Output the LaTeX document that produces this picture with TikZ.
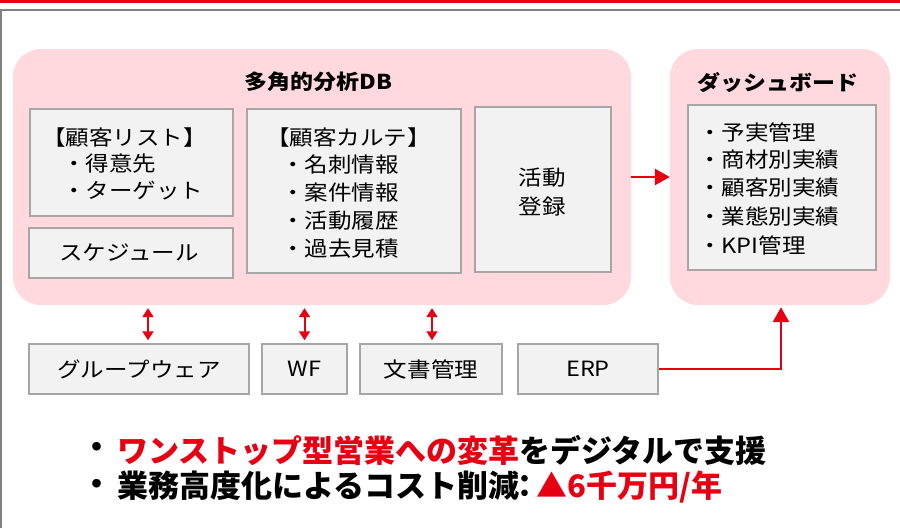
\documentclass[tikz,border=0pt]{standalone}
\usepackage{fontspec}
\setmainfont{Noto Sans CJK JP}[FakeStretch=1.12]
\newfontfamily\msgfont{Noto Sans CJK JP}
\usetikzlibrary{arrows.meta,calc}
\definecolor{topred}{HTML}{E60012}
\definecolor{pinkfill}{HTML}{FFD9DD}
\definecolor{boxfill}{HTML}{F2F2F2}
\definecolor{boxline}{HTML}{A6A6A6}
\definecolor{framegray}{HTML}{808080}
\tikzset{
  pinkbox/.style={fill=pinkfill, draw=none, rounded corners=28pt, inner sep=0pt, rectangle},
  graybox/.style={fill=boxfill, draw=boxline, line width=1.5pt, inner sep=0pt, rectangle},
  ttl/.style={inner sep=0pt, font=\fontsize{20.5}{24}\selectfont\bfseries},
  txt/.style={inner sep=0pt, font=\fontsize{21}{25}\selectfont},
  btxt/.style={inner sep=0pt, font=\fontsize{21}{25}\selectfont},
  bigtxt/.style={inner sep=0pt, font=\msgfont\fontsize{31}{36}\selectfont\bfseries},
  dblarr/.style={draw=topred, line width=2pt, {Triangle[width=11pt,length=9pt]}-{Triangle[width=11pt,length=9pt]}},
  redarr/.style={draw=topred, line width=2.8pt, -{Triangle[width=16pt,length=15pt]}}
}
\begin{document}
\begin{tikzpicture}[x=1pt,y=-1pt]
\useasboundingbox (0,0) rectangle (900,528);
% frame
\fill[topred] (0,0) rectangle (900,3);
\draw[framegray, line width=2pt] (1,528) -- (1,10) -- (900,10);
% pink containers
\node[pinkbox, minimum width=618pt, minimum height=256pt] (db) at (322,177) {};
\node[pinkbox, minimum width=220pt, minimum height=256pt] (dash) at (780,177) {};
\node[ttl] (dbt) at (318.5,82) {多角的分析DB};
\node[ttl] (dasht) at (778,83) {ダッシュボード};
% inner boxes
\node[graybox, minimum width=203pt, minimum height=107pt] (kl) at (131.5,162.5) {};
\node[graybox, minimum width=204pt, minimum height=50pt] (sch) at (131,253) {};
\node[graybox, minimum width=214pt, minimum height=164pt] (kk) at (354,191) {};
\node[graybox, minimum width=136pt, minimum height=165pt] (act) at (543,189.5) {};
\node[graybox, minimum width=188pt, minimum height=165pt] (dbox) at (782,187.5) {};
% texts in boxes
\node[txt, anchor=west] (kl1) at (42,138) {【顧客リスト】};
\node[txt, anchor=west] (kl2) at (62,164) {・得意先};
\node[txt, anchor=west] (kl3) at (62,191) {・ターゲット};
\node[txt] (scht) at (129,253) {スケジュール};
\node[txt, anchor=west] (kk1) at (266,138) {【顧客カルテ】};
\node[txt, anchor=west] (kk2) at (281,165) {・名刺情報};
\node[txt, anchor=west] (kk3) at (281,193) {・案件情報};
\node[txt, anchor=west] (kk4) at (281,221) {・活動履歴};
\node[txt, anchor=west] (kk5) at (281,249) {・過去見積};
\node[txt] (act1) at (542.5,178) {活動};
\node[txt] (act2) at (542.5,207) {登録};
\node[txt, anchor=west] (d1) at (698,132) {・予実管理};
\node[txt, anchor=west] (d2) at (698,160) {・商材別実績};
\node[txt, anchor=west] (d3) at (698,188) {・顧客別実績};
\node[txt, anchor=west] (d4) at (698,217) {・業態別実績};
\node[txt, anchor=west] (d5) at (698,245) {・KPI管理};
% bottom systems
\node[graybox, btxt, minimum width=220pt, minimum height=50pt] (gw) at (139,369) {グループウェア};
\node[graybox, btxt, minimum width=85pt, minimum height=50pt] (wf) at (304.5,369) {WF};
\node[graybox, btxt, minimum width=142pt, minimum height=50pt] (doc) at (431,369) {文書管理};
\node[graybox, btxt, minimum width=140pt, minimum height=50pt] (erp) at (588,369) {ERP};
% connectors
\draw[redarr] (db.east) -- (dash.west);
\draw[dblarr] ($(gw.north)+(9,-3)$) -- ($(gw.north |- db.south)+(9,3)$);
\draw[dblarr] ($(wf.north)+(0,-3)$) -- ($(wf.north |- db.south)+(0,3)$);
\draw[dblarr] ($(doc.north)+(1,-3)$) -- ($(doc.north |- db.south)+(1,3)$);
\draw[redarr] (erp.east) -| ($(dash.south)+(1,2)$);
% bottom message
\node[bigtxt] (b1) at (97,450) {・};
\node[bigtxt, anchor=west] (m1) at (117,450) {\textcolor{topred}{ワンストップ型営業への変革}をデジタルで支援};
\node[bigtxt] (b2) at (97,487) {・};
\node[bigtxt, anchor=west] (m2) at (117,487) {業務高度化によるコスト削減\kern-0.3em：\kern-0.15em\textcolor{topred}{▲6千万円/年}};
\end{tikzpicture}
\end{document}
